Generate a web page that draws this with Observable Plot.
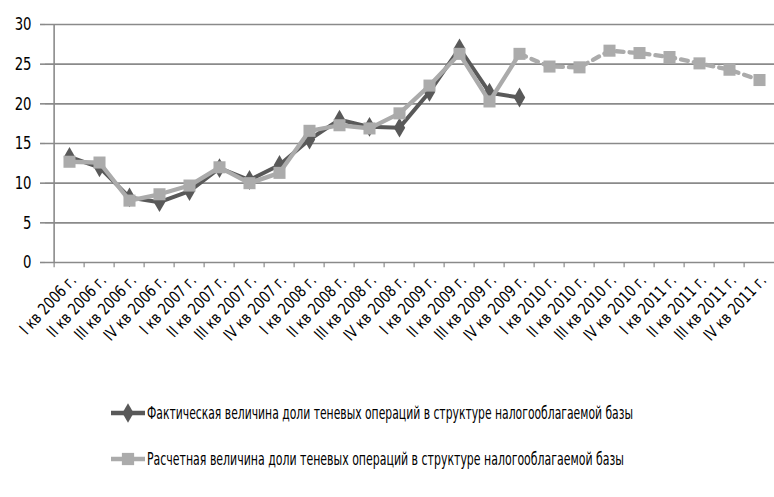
<!DOCTYPE html>
<html>
<head>
<meta charset="utf-8">
<script src="https://cdn.jsdelivr.net/npm/d3@7"></script>
<script src="https://cdn.jsdelivr.net/npm/@observablehq/plot@0.6"></script>
<style>
  body { margin: 0; background: #fff; }
  #wrap { position: relative; width: 774px; height: 497px; overflow: hidden; font-family: "DejaVu Sans Condensed", "Liberation Sans Narrow", sans-serif; }
  .leg { position: absolute; left: 111px; height: 22px; display: flex; align-items: center; font-size: 17.5px; color: #000; white-space: nowrap; }
  .leg svg { margin-right: 2px; flex: none; }
  .leg span { display: inline-block; transform-origin: 0 50%; }
</style>
</head>
<body>
<div id="wrap"></div>
<script>
const quarters = [
  "I кв 2006 г.", "II кв 2006 г.", "III кв 2006 г.", "IV кв 2006 г.",
  "I кв 2007 г.", "II кв 2007 г.", "III кв 2007 г.", "IV кв 2007 г.",
  "I кв 2008 г.", "II кв 2008 г.", "III кв 2008 г.", "IV кв 2008 г.",
  "I кв 2009 г.", "II кв 2009 г.", "III кв 2009 г.", "IV кв 2009 г.",
  "I кв 2010 г.", "II кв 2010 г.", "III кв 2010 г.", "IV кв 2010 г.",
  "I кв 2011 г.", "II кв 2011 г.", "III кв 2011 г.", "IV кв 2011 г."
];
const actual = [13.3, 12.0, 8.2, 7.6, 9.0, 11.9, 10.4, 12.3, 15.5, 18.0, 17.1, 17.0, 21.5, 27.0, 21.4, 20.8];
const estimated = [12.7, 12.6, 7.8, 8.6, 9.7, 12.0, 10.0, 11.3, 16.6, 17.3, 16.9, 18.8, 22.3, 26.3, 20.3, 26.3,
                   24.7, 24.6, 26.7, 26.4, 25.9, 25.1, 24.3, 23.0];
const forecastFrom = "IV кв 2009 г.";
const yTicks = [0, 5, 10, 15, 20, 25, 30];
const seriesNames = [
  "Фактическая величина доли теневых операций в структуре налогооблагаемой базы",
  "Расчетная величина доли теневых операций в структуре налогооблагаемой базы"
];

const darkColor = "#595959";
const lightColor = "#ababab";
const gridColor = "#8a8a8a";
const fontFamily = "'DejaVu Sans Condensed', 'Liberation Sans Narrow', sans-serif";

const actualData = actual.map((v, i) => ({q: quarters[i], v}));
const estData = estimated.map((v, i) => ({q: quarters[i], v}));
const cut = quarters.indexOf(forecastFrom);
const estSolid = estData.slice(0, cut + 1);
const estDashed = estData.slice(cut);

const xRange = [45, 783];
const halfStep = (xRange[1] - xRange[0]) / quarters.length / 2;

const chart = Plot.plot({
  width: 774,
  height: 390,
  marginLeft: 45,
  marginRight: 0,
  marginTop: 24,
  marginBottom: 128,
  style: {fontFamily, fontSize: "15px", color: "#000", background: "#fff", overflow: "visible"},
  x: {type: "point", domain: quarters, range: xRange, padding: 0.5},
  y: {domain: [0, 30], ticks: yTicks},
  marks: [
    Plot.gridY(yTicks, {stroke: gridColor, strokeOpacity: 1, strokeWidth: 1.6}),
    Plot.axisY({ticks: yTicks, tickSize: 5, tickPadding: 9, stroke: gridColor, strokeWidth: 1.6, strokeOpacity: 1, fontSize: 16, label: null, className: "yax"}),
    Plot.ruleX([quarters[0]], {x: d => d, dx: -halfStep, y1: 0, y2: 30, stroke: gridColor, strokeWidth: 1.6}),
    Plot.ruleX(quarters, {x: d => d, dx: -halfStep, y1: 0, y2: -0.65, stroke: gridColor, strokeWidth: 1.2}),
    Plot.axisX({tickSize: 0, tickRotate: -47, tickPadding: 15, dx: 4, fontSize: 16.5, label: null, className: "xax"}),
    Plot.line(actualData, {x: "q", y: "v", stroke: darkColor, strokeWidth: 4}),
    Plot.dot(actualData, {x: "q", y: "v", symbol: "diamond", r: 6, fill: darkColor, stroke: "none"}),
    Plot.line(estSolid, {x: "q", y: "v", stroke: lightColor, strokeWidth: 4.3}),
    Plot.line(estDashed, {x: "q", y: "v", stroke: lightColor, strokeWidth: 4.3, strokeDasharray: "7,6"}),
    Plot.dot(estData, {x: "q", y: "v", symbol: "square", r: 6.8, fill: lightColor, stroke: "none"})
  ]
});

const wrap = document.getElementById("wrap");
wrap.appendChild(chart);

// condense tick label glyphs (reference uses a narrow, tall face)
d3.select(chart).selectAll("g.xax text").attr("transform", function() {
  return (this.getAttribute("transform") || "") + " scale(0.86,1)";
});
d3.select(chart).selectAll("g.yax text").attr("transform", function() {
  return (this.getAttribute("transform") || "") + " scale(0.92,1.15)";
});

function legendRow(top, name, color, symbol, targetWidth) {
  const row = document.createElement("div");
  row.className = "leg";
  row.style.top = top + "px";
  const s = d3.create("svg").attr("width", 34).attr("height", 22);
  s.append("line").attr("x1", 0).attr("x2", 34).attr("y1", 11).attr("y2", 11)
    .attr("stroke", color).attr("stroke-width", 4.5);
  s.append("path").attr("transform", "translate(17,11)")
    .attr("d", d3.symbol(symbol, symbol === d3.symbolDiamond ? 110 : 150)())
    .attr("fill", color);
  row.appendChild(s.node());
  const t = document.createElement("span");
  t.textContent = name;
  row.appendChild(t);
  wrap.appendChild(row);
  const w = t.getBoundingClientRect().width;
  if (w > 0) t.style.transform = `scaleX(${targetWidth / w})`;
}
legendRow(402, seriesNames[0], darkColor, d3.symbolDiamond, 486);
legendRow(448, seriesNames[1], lightColor, d3.symbolSquare, 477);
</script>
</body>
</html>
